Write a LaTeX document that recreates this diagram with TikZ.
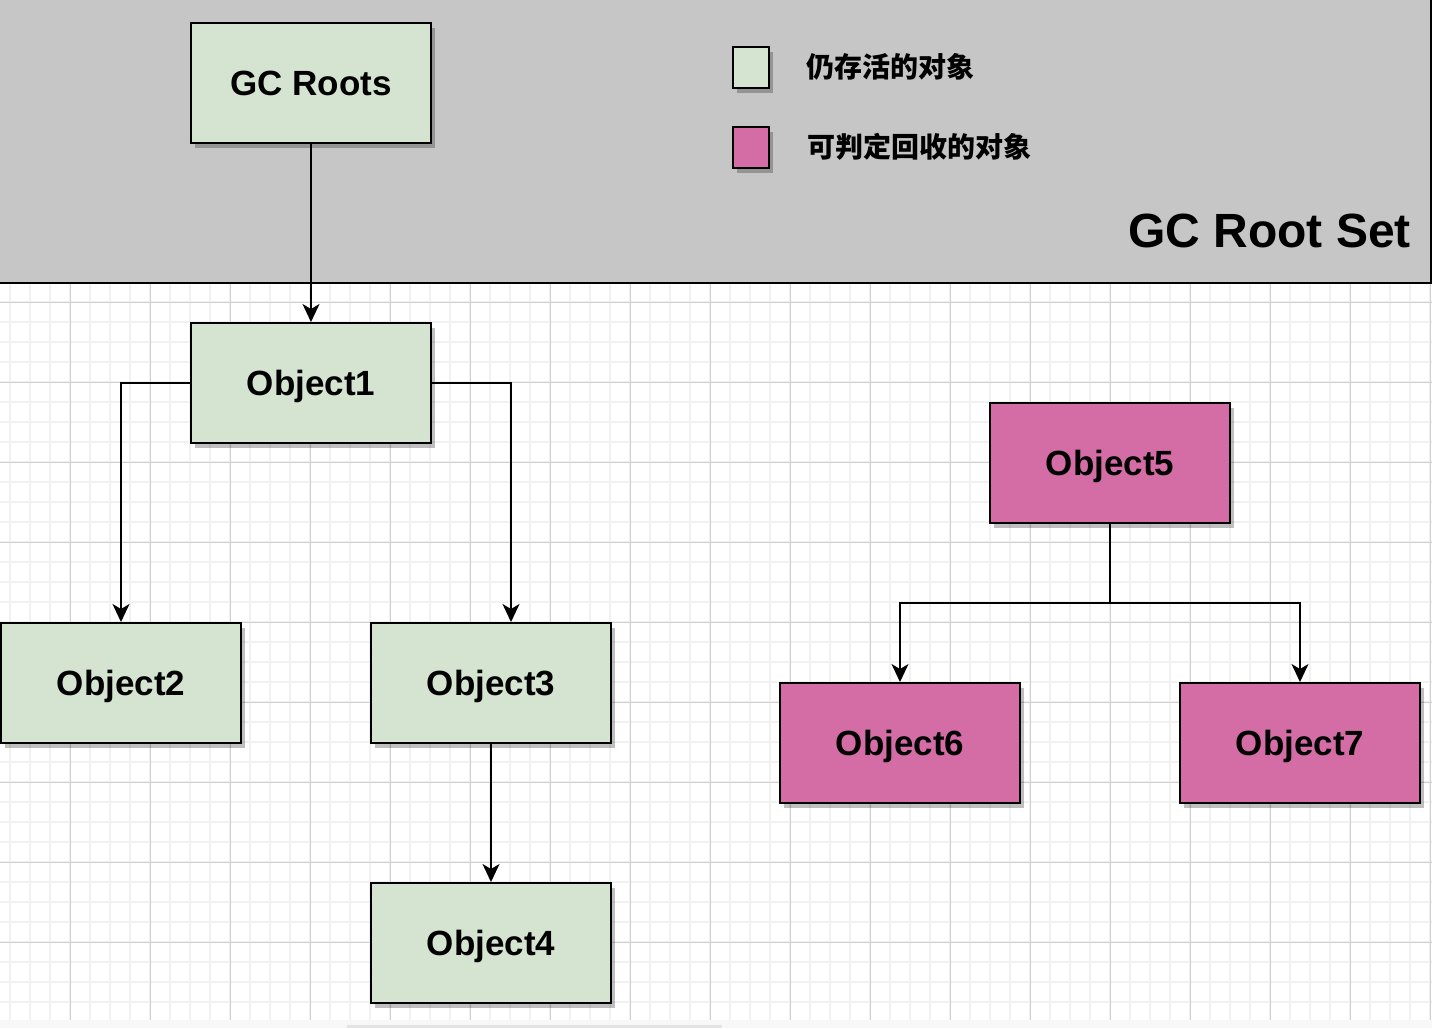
\documentclass[tikz,border=0pt]{standalone}
\usepackage{fontspec}
\setmainfont{Liberation Sans}
\newfontfamily\cjk{Noto Sans CJK SC}
\definecolor{livegreen}{HTML}{D5E3D1}
\definecolor{deadpink}{HTML}{D46DA6}
\definecolor{setgray}{HTML}{C6C6C6}
\definecolor{gridminor}{HTML}{F1F1F1}
\definecolor{gridmajor}{HTML}{D0D0D0}
\definecolor{footgray}{HTML}{F7F7F7}
\tikzset{
  objbox/.style={draw=black, line width=2pt, minimum width=240pt, minimum height=120pt,
    inner sep=0pt, text height=25pt, text depth=0pt,
    font=\fontsize{35}{38}\selectfont\bfseries,
    drop shadow={shadow xshift=4pt, shadow yshift=-5pt, fill=black, opacity=0.25}},
  live/.style={objbox, fill=livegreen},
  dead/.style={objbox, fill=deadpink},
  legendbox/.style={draw=black, line width=2pt, minimum width=36pt, minimum height=41pt,
    inner sep=0pt,
    drop shadow={shadow xshift=4pt, shadow yshift=-5pt, fill=black, opacity=0.25}},
  legendtext/.style={anchor=west, inner sep=0pt, font=\cjk\bfseries\fontsize{28}{31}\selectfont},
  conn/.style={draw=black, line width=1.8pt, -{Stealth[length=18pt,width=17pt,inset=5pt]}},
  connplain/.style={draw=black, line width=1.8pt}
}
\usetikzlibrary{shadows,arrows.meta}
\begin{document}
\begin{tikzpicture}[x=1pt,y=-1pt]
\useasboundingbox (0,0) rectangle (1432,1028);
% background grid
\fill[white] (0,0) rectangle (1432,1020);
\foreach \x in {10,30,...,1430} \draw[gridminor, line width=1.3pt] (\x,283) -- (\x,1020);
\foreach \y in {302,322,...,1020} \draw[gridminor, line width=1.3pt] (0,\y) -- (1432,\y);
\foreach \x in {70,150,...,1430} \draw[gridmajor, line width=1pt] (\x,283) -- (\x,1020);
\foreach \y in {302,382,...,1020} \draw[gridmajor, line width=1pt] (0,\y) -- (1432,\y);
\fill[footgray] (0,1020) rectangle (1432,1028);
\fill[gridmajor!60] (347,1025) rectangle (722,1028);
% GC Root Set region
\fill[setgray] (0,0) rectangle (1431,283);
\draw[black, line width=2pt] (0,283) -- (1431,283) -- (1431,0);
\node[anchor=south east, inner sep=0pt, font=\fontsize{48}{51}\selectfont\bfseries] (setlabel) at (1411,248) {GC Root Set};
% legend
\node[legendbox, fill=livegreen] (lg1) at (751,67) {};
\node[legendbox, fill=deadpink] (lg2) at (751,147) {};
\node[legendtext] (lt1) at (806,67) {仍存活的对象};
\node[legendtext] (lt2) at (807,147) {可判定回收的对象};
% objects
\node[live] (roots) at (311,83) {GC Roots};
\node[live] (o1) at (311,383) {Object1};
\node[live] (o2) at (121,683) {Object2};
\node[live] (o3) at (491,683) {Object3};
\node[live] (o4) at (491,943) {Object4};
\node[dead] (o5) at (1110,463) {Object5};
\node[dead] (o6) at (900,743) {Object6};
\node[dead] (o7) at (1300,743) {Object7};
\coordinate (split) at (1110,603);
% connectors
\draw[conn] (roots.south) -- (o1.north);
\draw[conn] (o1.west) -| (o2.north);
\draw[conn] (o1.east) -| ([xshift=20pt]o3.north);
\draw[conn] (o3.south) -- (o4.north);
\draw[connplain] (o5.south) -- (split);
\draw[conn] (split) -| (o6.north);
\draw[conn] (split) -| (o7.north);
\end{tikzpicture}
\end{document}
